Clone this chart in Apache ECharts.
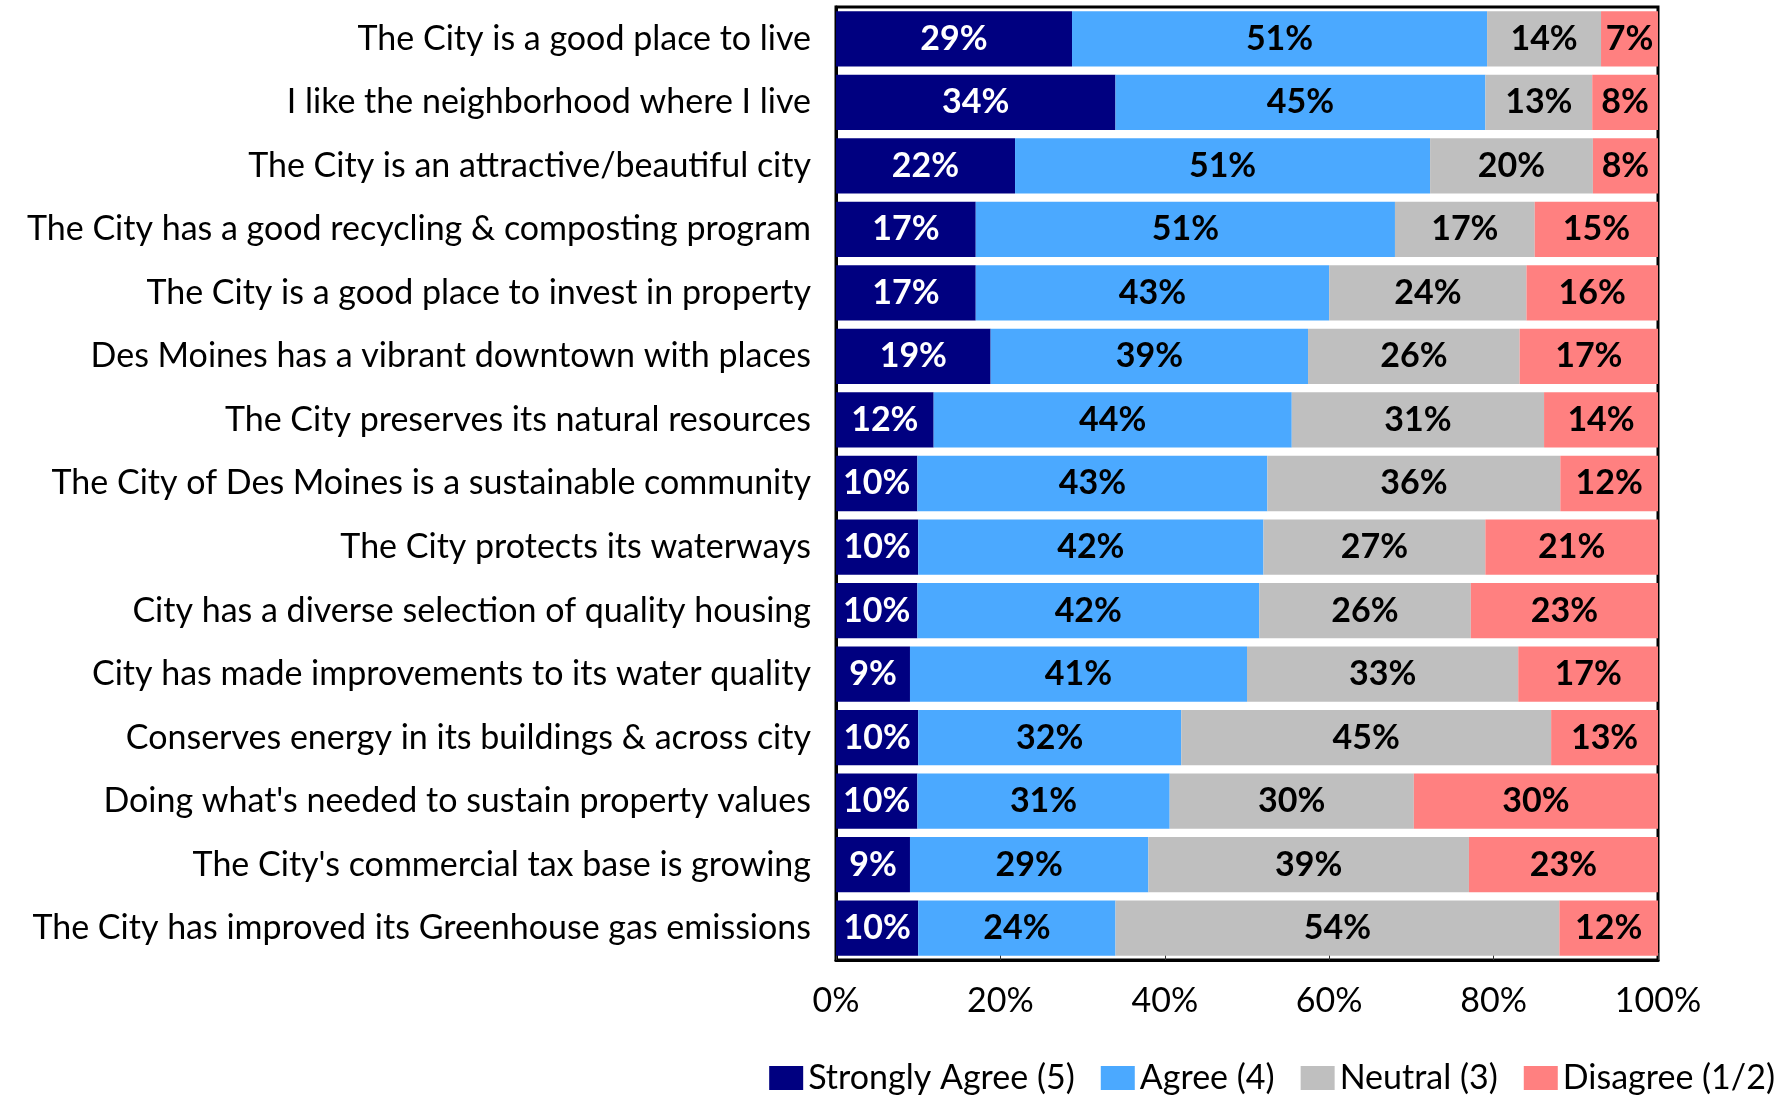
<!DOCTYPE html>
<html>
<head>
<meta charset="utf-8">
<script src="https://cdn.jsdelivr.net/npm/echarts@6/dist/echarts.min.js"></script>
<style>
  html, body { margin: 0; padding: 0; background: #fff; }
  #chart { width: 1792px; height: 1097px; }
</style>
</head>
<body>
<div id="chart"></div>
<script>
const categories = [
  'The City is a good place to live',
  'I like the neighborhood where I live',
  'The City is an attractive/beautiful city',
  'The City has a good recycling & composting program',
  'The City is a good place to invest in property',
  'Des Moines has a vibrant downtown with places',
  'The City preserves its natural resources',
  'The City of Des Moines is a sustainable community',
  'The City protects its waterways',
  'City has a diverse selection of quality housing',
  'City has made improvements to its water quality',
  'Conserves energy in its buildings & across city',
  "Doing what's needed to sustain property values",
  "The City's commercial tax base is growing",
  'The City has improved its Greenhouse gas emissions'
]

const stronglyAgree = [29, 34, 22, 17, 17, 19, 12, 10, 10, 10, 9, 10, 10, 9, 10]
const agree = [51, 45, 51, 51, 43, 39, 44, 43, 42, 42, 41, 32, 31, 29, 24]
const neutral = [14, 13, 20, 17, 24, 26, 31, 36, 27, 26, 33, 45, 30, 39, 54]
const disagree = [7, 8, 8, 15, 16, 17, 14, 12, 21, 23, 17, 13, 30, 23, 12]

const xTicks = [0, 20, 40, 60, 80, 100]

const seriesDefs = [
  { name: 'Strongly Agree (5)', values: stronglyAgree, color: '#000080', text: '#fff' },
  { name: 'Agree (4)', values: agree, color: '#4BA9FF', text: '#000' },
  { name: 'Neutral (3)', values: neutral, color: '#BFBFBF', text: '#000' },
  { name: 'Disagree (1/2)', values: disagree, color: '#FF8080', text: '#000' }
]

// 100% stacked: each row is scaled to its own total, labels keep the rounded numbers
const totals = categories.map((c, i) =>
  seriesDefs.reduce((s, d) => s + d.values[i], 0))

const font = 'Lato, "Noto Sans", sans-serif'

const chart = echarts.init(document.getElementById('chart'))

chart.setOption({
  animation: false,
  textStyle: { fontFamily: font },
  grid: {
    left: 836,
    right: 134,
    top: 7,
    bottom: 137,
    show: true,
    borderColor: '#000',
    borderWidth: 3,
    backgroundColor: 'transparent'
  },
  legend: {
    right: 12,
    top: 1056,
    itemWidth: 34,
    itemHeight: 24,
    itemGap: 26,
    icon: 'rect',
    textStyle: { fontSize: 34, color: '#000', fontFamily: font },
    data: seriesDefs.map(d => d.name)
  },
  xAxis: {
    type: 'value',
    min: 0,
    max: 100,
    interval: 20,
    axisLine: { show: true, lineStyle: { color: '#000', width: 3 } },
    axisTick: { show: true, inside: true, length: 7, lineStyle: { color: '#333', width: 1 } },
    splitLine: { show: false },
    axisLabel: {
      fontSize: 34,
      color: '#000',
      margin: 24,
      formatter: v => xTicks.includes(v) ? v + '%' : ''
    }
  },
  yAxis: {
    type: 'category',
    inverse: true,
    data: categories,
    axisLine: { show: true, lineStyle: { color: '#000', width: 3 } },
    axisTick: { show: false },
    axisLabel: { fontSize: 34, color: '#000', margin: 25, padding: [8, 0, 0, 0] }
  },
  series: seriesDefs.map(d => ({
    name: d.name,
    type: 'bar',
    stack: 'total',
    barCategoryGap: '13%',
    itemStyle: { color: d.color },
    label: {
      show: true,
      position: 'inside',
      color: d.text,
      fontWeight: 'bold',
      fontSize: 34,
      fontFamily: font,
      padding: [8, 0, 0, 0],
      formatter: p => d.values[p.dataIndex] + '%'
    },
    data: d.values.map((v, i) => v / totals[i] * 100)
  }))
})

window.addEventListener('resize', () => chart.resize())
</script>
</body>
</html>
